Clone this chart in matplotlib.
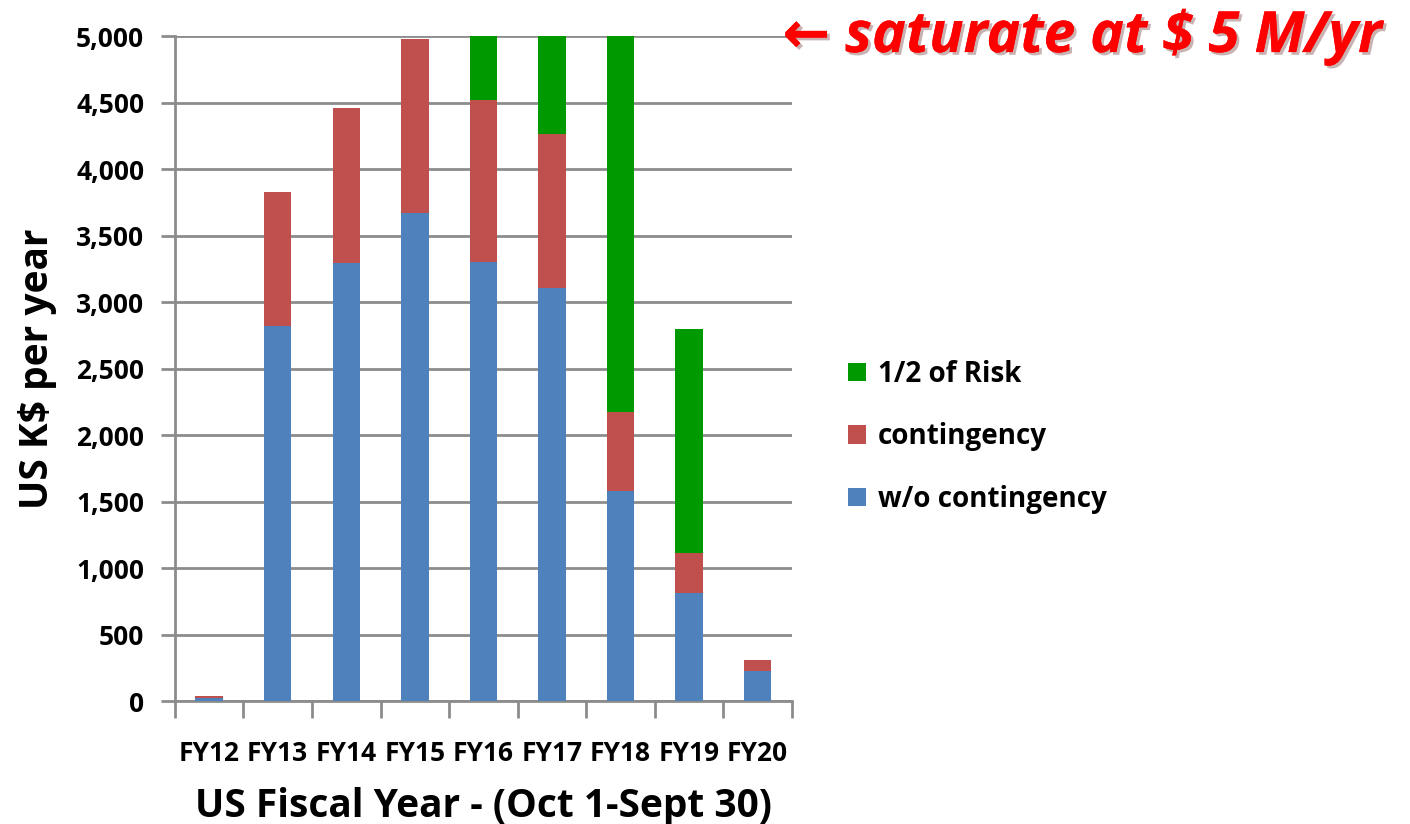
import matplotlib.pyplot as plt
import matplotlib.patheffects as pe
import numpy as np
from matplotlib.ticker import FuncFormatter

plt.rcParams['font.family'] = ['Open Sans', 'DejaVu Sans']
plt.rcParams['font.weight'] = 'bold'

years = ['FY12', 'FY13', 'FY14', 'FY15', 'FY16', 'FY17', 'FY18', 'FY19', 'FY20']
base = [28, 2825, 3295, 3670, 3300, 3105, 1580, 812, 226]
contingency = [15, 1002, 1165, 1308, 1220, 1160, 593, 301, 82]
half_risk = [0, 0, 0, 0, 480, 735, 2827, 1687, 0]

blue = '#4f81bd'
red = '#c0504d'
green = '#009900'

fig = plt.figure(figsize=(14.1, 8.24), dpi=100)
ax = fig.add_axes([0.124, 0.149, 0.4376, 0.807])

x = np.arange(len(years))
w = 0.4
b1 = np.array(base)
b2 = b1 + np.array(contingency)
ax.bar(x, base, w, color=blue, label='w/o contingency', zorder=3)
ax.bar(x, contingency, w, bottom=b1, color=red, label='contingency', zorder=3)
ax.bar(x, half_risk, w, bottom=b2, color=green, label='1/2 of Risk', zorder=3)

ax.set_xlim(-0.5, len(years) - 0.5)
ax.set_ylim(0, 5000)
ax.set_yticks(np.arange(0, 5001, 500))
ax.yaxis.set_major_formatter(FuncFormatter(lambda v, p: f'{int(v):,}'))
ax.yaxis.grid(True, color='#8c8c8c', linewidth=2, zorder=0)

# category ticks sit between the bars
ax.set_xticks(np.arange(-0.5, len(years)), minor=False)
ax.set_xticklabels([])
ax.set_xticks(x, minor=True)
ax.set_xticklabels(years, minor=True, fontsize=19, fontweight='bold')
ax.tick_params(axis='x', which='minor', length=0, pad=28)
ax.tick_params(axis='x', which='major', length=12, width=2, color='#8c8c8c', direction='out')
ax.tick_params(axis='y', length=10, width=2, color='#8c8c8c', labelsize=19, pad=12)

for s in ['top', 'right']:
    ax.spines[s].set_visible(False)
for s in ['left', 'bottom']:
    ax.spines[s].set_color('#8c8c8c')
    ax.spines[s].set_linewidth(2)

ax.set_ylabel('US K$ per year', fontsize=28, fontweight='bold', labelpad=14)
ax.set_xlabel('US Fiscal Year - (Oct 1-Sept 30)', fontsize=28, fontweight='bold', labelpad=14)

handles, labels = ax.get_legend_handles_labels()
fig.legend(handles[::-1], labels[::-1], loc='center left', bbox_to_anchor=(0.584, 0.47),
           frameon=False, handlelength=0.65, handleheight=0.65,
           handletextpad=0.4, labelspacing=1.2, prop={'weight': 'bold', 'size': 20})

fig.text(0.555, 0.955, '\u2190 saturate at $ 5 M/yr', color='#ff0000', fontsize=41,
         fontweight='bold', style='italic', va='center', ha='left',
         path_effects=[pe.withSimplePatchShadow(offset=(2, -2), alpha=0.3), pe.Normal()])

fig.savefig('out.png', dpi=100)
